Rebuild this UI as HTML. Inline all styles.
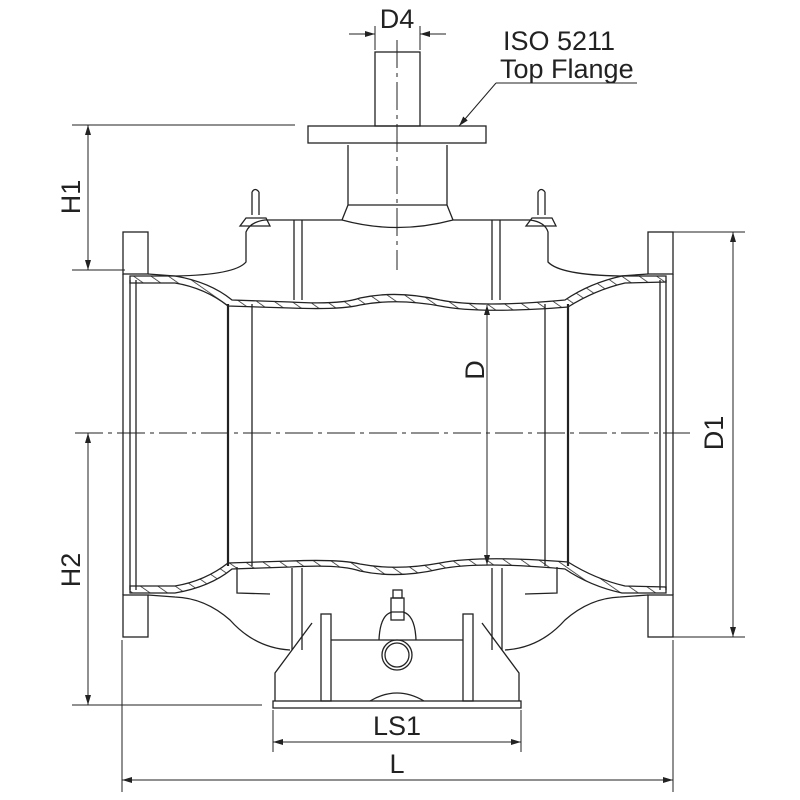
<!DOCTYPE html>
<html><head><style>html,body{margin:0;padding:0;background:#fff}svg{display:block}</style></head><body>
<svg width="800" height="800" viewBox="0 0 800 800" xmlns="http://www.w3.org/2000/svg" font-family="Liberation Sans, sans-serif">
<defs>
<pattern id="h" width="10" height="10" patternUnits="userSpaceOnUse" patternTransform="rotate(-55)"><line x1="0" y1="0" x2="0" y2="10" stroke="#222" stroke-width="1.5"/></pattern>
<marker id="a" markerWidth="10" markerHeight="6" refX="10" refY="3" orient="auto" markerUnits="userSpaceOnUse"><path d="M0,0 L10,3 L0,6 z" fill="#222"/></marker>
</defs>
<g stroke="#222" stroke-width="1.3" fill="none">
<rect x="375" y="52" width="45" height="74"/>
<rect x="308" y="126" width="178" height="17"/>
<path d="M348,145 L348,205 L342,220 M447,145 L447,205 L453,220"/>
<line x1="348" y1="205" x2="447" y2="205"/>
<path d="M342,220 Q397,235 453,220 L530,220 Q545,222 548,232 L548,262 Q560,275 620,276 L648,274"/>
<path d="M342,220 L265,220 Q250,222 246,232 L246,262 Q235,275 175,276 L148,274"/>
<line x1="294" y1="220" x2="294" y2="300"/><line x1="302" y1="220" x2="302" y2="300"/>
<line x1="492" y1="220" x2="492" y2="300"/><line x1="500" y1="220" x2="500" y2="300"/>
<path d="M252,192 L252,215 M259,192 L259,215 M252,192 Q255,187 259,192 M240,226 L246,218 L266,218 L270,226 Z"/>
<path d="M538,192 L538,215 M545,192 L545,215 M538,192 Q541,187 545,192 M526,226 L532,218 L552,218 L556,226 Z"/>
<rect x="123" y="232" width="25" height="42"/><rect x="123" y="595" width="25" height="42"/>
<rect x="648" y="232" width="25" height="42"/><rect x="648" y="595" width="25" height="42"/>
<line x1="123" y1="274" x2="123" y2="595"/><line x1="673" y1="274" x2="673" y2="595"/>
<line x1="130" y1="280" x2="130" y2="590"/><line x1="136" y1="280" x2="136" y2="590"/>
<line x1="660" y1="280" x2="660" y2="590"/><line x1="666" y1="280" x2="666" y2="590"/>
<path d="M130,276 L175,276 Q210,282 232,300 L290,302 Q340,305 360,298 Q397,290 440,300 Q480,308 565,300 Q590,283 622,276 L666,276 L666,282 L625,283 Q595,290 568,307 Q480,314 440,306 Q397,298 360,305 Q340,310 290,308 L228,306 Q205,288 175,283 L130,283 Z" fill="url(#h)"/>
<path d="M130,593 L175,593 Q210,587 232,569 L290,567 Q340,564 360,571 Q397,579 440,569 Q480,561 565,569 Q590,586 622,593 L666,593 L666,587 L625,586 Q595,579 568,562 Q480,555 440,563 Q397,571 360,564 Q340,559 290,561 L228,563 Q205,581 175,586 L130,586 Z" fill="url(#h)"/>
<line x1="228" y1="304" x2="228" y2="566" stroke-width="2.2"/><line x1="252" y1="304" x2="252" y2="566"/>
<line x1="545" y1="304" x2="545" y2="566"/><line x1="568" y1="304" x2="568" y2="566" stroke-width="2.2"/>
<path d="M148,595 L175,597 Q205,598 230,620 Q255,648 290,650"/>
<path d="M648,595 L620,597 Q590,598 565,620 Q540,648 505,650"/>
<line x1="292" y1="568" x2="292" y2="650"/><line x1="302" y1="568" x2="302" y2="650"/>
<line x1="492" y1="568" x2="492" y2="650"/><line x1="502" y1="568" x2="502" y2="650"/>
<path d="M237,567 L237,593 L270,594 M557,567 L557,593 L525,594"/>
<rect x="273" y="701" width="248" height="7"/>
<path d="M275,701 L275,673 L312,623 M519,701 L519,673 L482,623"/>
<rect x="321" y="614" width="10" height="87"/><rect x="463" y="614" width="10" height="87"/>
<line x1="331" y1="640" x2="463" y2="640"/>
<path d="M370,701 Q397,685 424,701"/>
<path d="M379,640 Q380,615 392,612 L403,612 Q415,615 416,640"/>
<rect x="391" y="598" width="13" height="22"/>
<rect x="393" y="590" width="9" height="8"/>
<circle cx="397" cy="655" r="15"/><circle cx="397" cy="655" r="12"/>
</g>
<g stroke="#222" stroke-width="1" stroke-dasharray="28,5,4,5" fill="none">
<line x1="75" y1="433" x2="690" y2="433"/>
<line x1="397" y1="40" x2="397" y2="270"/>
</g>
<g stroke="#222" stroke-width="1" fill="none">
<line x1="349" y1="34" x2="375" y2="34" marker-end="url(#a)"/><line x1="446" y1="34" x2="420" y2="34" marker-end="url(#a)"/>
<line x1="375" y1="26" x2="375" y2="50"/><line x1="420" y1="26" x2="420" y2="50"/>
<line x1="637" y1="83" x2="496" y2="83"/><line x1="496" y1="83" x2="459" y2="126" marker-end="url(#a)"/>
<line x1="72" y1="125" x2="295" y2="125"/><line x1="72" y1="270" x2="125" y2="270"/>
<line x1="88" y1="197" x2="88" y2="125" marker-end="url(#a)"/><line x1="88" y1="197" x2="88" y2="270" marker-end="url(#a)"/>
<line x1="72" y1="705" x2="262" y2="705"/>
<line x1="88" y1="570" x2="88" y2="433" marker-end="url(#a)"/><line x1="88" y1="570" x2="88" y2="705" marker-end="url(#a)"/>
<line x1="673" y1="232" x2="745" y2="232"/><line x1="673" y1="637" x2="745" y2="637"/>
<line x1="733" y1="433" x2="733" y2="232" marker-end="url(#a)"/><line x1="733" y1="433" x2="733" y2="637" marker-end="url(#a)"/>
<line x1="487" y1="433" x2="487" y2="305" marker-end="url(#a)"/><line x1="487" y1="433" x2="487" y2="565" marker-end="url(#a)"/>
<line x1="273" y1="710" x2="273" y2="752"/><line x1="521" y1="710" x2="521" y2="752"/>
<line x1="397" y1="742" x2="273" y2="742" marker-end="url(#a)"/><line x1="397" y1="742" x2="521" y2="742" marker-end="url(#a)"/>
<line x1="122" y1="640" x2="122" y2="792"/><line x1="673" y1="640" x2="673" y2="792"/>
<line x1="397" y1="780" x2="122" y2="780" marker-end="url(#a)"/><line x1="397" y1="780" x2="673" y2="780" marker-end="url(#a)"/>
</g>
<g fill="#222" font-size="27">
<text x="397" y="28" text-anchor="middle">D4</text>
<text x="503" y="50">ISO 5211</text>
<text x="500" y="78">Top Flange</text>
<text x="397" y="735" text-anchor="middle">LS1</text>
<text x="397" y="773" text-anchor="middle">L</text>
<text transform="translate(80,197) rotate(-90)" text-anchor="middle">H1</text>
<text transform="translate(80,570) rotate(-90)" text-anchor="middle">H2</text>
<text transform="translate(723,433) rotate(-90)" text-anchor="middle">D1</text>
<text transform="translate(484,370) rotate(-90)" text-anchor="middle">D</text>
</g>
</svg>
</body></html>
